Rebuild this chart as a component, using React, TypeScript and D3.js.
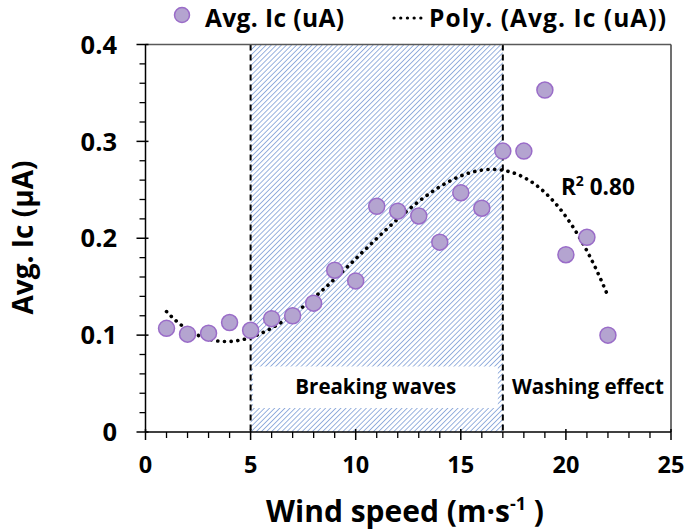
import React from "react";
import * as d3 from "d3";

const windSpeed = [1, 2, 3, 4, 5, 6, 7, 8, 9, 10, 11, 12, 13, 14, 15, 16, 17, 18, 19, 20, 21, 22];
const avgIc = [0.107, 0.101, 0.102, 0.113, 0.105, 0.117, 0.120, 0.133, 0.167, 0.156, 0.233, 0.228, 0.223, 0.196, 0.247, 0.231, 0.290, 0.290, 0.353, 0.183, 0.201, 0.100];
const xTicks = [0, 5, 10, 15, 20, 25];
const yTicks = [0, 0.1, 0.2, 0.3, 0.4];
const zoneBounds = [5, 17];
const zoneLabels = ["Breaking waves", "Washing effect"];
const legendLabels = ["Avg. Ic (uA)", "Poly. (Avg. Ic (uA))"];
const r2Label = "0.80";
const polyOrder = 3;

function polyFit(xs: number[], ys: number[], order: number): number[] {
  const n = order + 1;
  const A: number[][] = Array.from({ length: n }, () => new Array(n + 1).fill(0));
  for (let i = 0; i < xs.length; i++) {
    for (let r = 0; r < n; r++) {
      for (let c = 0; c < n; c++) A[r][c] += Math.pow(xs[i], r + c);
      A[r][n] += ys[i] * Math.pow(xs[i], r);
    }
  }
  for (let p = 0; p < n; p++) {
    let max = p;
    for (let r = p + 1; r < n; r++) if (Math.abs(A[r][p]) > Math.abs(A[max][p])) max = r;
    [A[p], A[max]] = [A[max], A[p]];
    for (let r = 0; r < n; r++) {
      if (r === p) continue;
      const f = A[r][p] / A[p][p];
      for (let c = p; c <= n; c++) A[r][c] -= f * A[p][c];
    }
  }
  return A.map((row, i) => row[n] / row[i]);
}

const FONT = "'Open Sans', Lato, sans-serif";

export default function App() {
  const W = 685, H = 530;
  const x = d3.scaleLinear().domain([0, 25]).range([145.5, 671]);
  const y = d3.scaleLinear().domain([0, 0.4]).range([432, 44.5]);

  const coef = polyFit(windSpeed, avgIc, polyOrder);
  const evalPoly = (v: number) => coef.reduce((s, c, i) => s + c * Math.pow(v, i), 0);
  const xMin = d3.min(windSpeed)!, xMax = d3.max(windSpeed)!;
  const trendPts = d3.range(xMin, xMax + 0.001, 0.1).map((v) => [v, evalPoly(v)] as [number, number]);
  const line = d3.line<[number, number]>().x((d) => x(d[0])).y((d) => y(d[1])).curve(d3.curveLinear);

  const minorX = d3.range(0, 25.001, 1).filter((v) => v % 5 !== 0);
  const minorY = d3.range(0, 0.4001, 0.02).filter((v) => Math.abs((v * 10) - Math.round(v * 10)) > 1e-6);

  const x0 = x(0), x1 = x(25), y0 = y(0), y1 = y(0.4);
  const zx0 = x(zoneBounds[0]), zx1 = x(zoneBounds[1]);

  return (
    <svg width={W} height={H} style={{ position: "absolute", left: 0, top: 0, background: "#fff" }} fontFamily={FONT}>
      <defs>
        <pattern id="hatch" patternUnits="userSpaceOnUse" width={3.6} height={3.6} patternTransform="rotate(45)">
          <rect width={3.6} height={3.6} fill="#fff" />
          <line x1={0} y1={0} x2={0} y2={3.6} stroke="#8eaadb" strokeWidth={1.8} />
        </pattern>
      </defs>
      <rect x={0} y={0} width={W} height={H} fill="#fff" />

      {/* hatched zone */}
      <rect x={zx0} y={y1} width={zx1 - zx0} height={y0 - y1} fill="url(#hatch)" />
      <rect x={zx0 + 2.5} y={366.5} width={zx1 - zx0 - 7.5} height={41.5} fill="#fff" />

      {/* dashed zone lines */}
      {zoneBounds.map((b) => (
        <line key={b} x1={x(b)} x2={x(b)} y1={y1} y2={y0} stroke="#000" strokeWidth={2} strokeDasharray="6,4" />
      ))}

      {/* trendline */}
      <path d={line(trendPts) || ""} fill="none" stroke="#000" strokeWidth={3.6} strokeLinecap="round" strokeDasharray="0.1,6.6" />

      {/* points */}
      {windSpeed.map((w, i) => (
        <circle key={w} cx={x(w)} cy={y(avgIc[i])} r={8} fill="#b4a4d0" stroke="#9a6cc8" strokeWidth={1.5} />
      ))}

      {/* border */}
      <line x1={x0} x2={x1} y1={y1} y2={y1} stroke="#595959" strokeWidth={1.5} />
      <line x1={x1} x2={x1} y1={y1} y2={y0} stroke="#404040" strokeWidth={1.5} />

      {/* axes */}
      <line x1={x0} x2={x1} y1={y0} y2={y0} stroke="#000" strokeWidth={1.5} />
      <line x1={x0} x2={x0} y1={y1} y2={y0} stroke="#000" strokeWidth={1.5} />
      {xTicks.map((t) => (
        <g key={"xt" + t}>
          <line x1={x(t)} x2={x(t)} y1={y0 - 3} y2={y0 + 8} stroke="#000" strokeWidth={1.5} />
          <text x={x(t)} y={473} textAnchor="middle" fontSize={23.5} fontWeight="bold" fill="#000">{t}</text>
        </g>
      ))}
      {minorX.map((t) => (
        <line key={"xm" + t} x1={x(t)} x2={x(t)} y1={y0} y2={y0 + 6} stroke="#000" strokeWidth={1.3} />
      ))}
      {yTicks.map((t) => (
        <g key={"yt" + t}>
          <line x1={x0 - 9} x2={x0 + 3} y1={y(t)} y2={y(t)} stroke="#000" strokeWidth={1.5} />
          <text x={117} y={y(t)} dy="0.36em" textAnchor="end" fontSize={25.5} fontWeight="bold" fill="#000">{t === 0 ? "0" : t.toFixed(1)}</text>
        </g>
      ))}
      {minorY.map((t) => (
        <line key={"ym" + t} x1={x0 - 6} x2={x0} y1={y(t)} y2={y(t)} stroke="#000" strokeWidth={1.3} />
      ))}

      {/* zone labels */}
      <text x={(zx0 + zx1) / 2 - 1} y={394} textAnchor="middle" fontSize={20.5} fontWeight="bold" fill="#000">{zoneLabels[0]}</text>
      <text x={588} y={394} textAnchor="middle" fontSize={20.5} fontWeight="bold" fill="#000">{zoneLabels[1]}</text>

      {/* R2 label */}
      <text x={561} y={195} fontSize={22.5} fontWeight="bold" fill="#000">
        R<tspan fontSize={14} dy={-9}>2</tspan><tspan dy={9}> {r2Label}</tspan>
      </text>

      {/* axis titles */}
      <text transform="translate(33,237.5) rotate(-90)" textAnchor="middle" fontSize={28} fontWeight="bold" fill="#000">Avg. Ic (μA)</text>
      <text x={405} y={522} textAnchor="middle" fontSize={30} fontWeight="bold" fill="#000">
        Wind speed (m·s<tspan fontSize={18} dy={-12}>-1</tspan><tspan dy={12}> )</tspan>
      </text>

      {/* legend */}
      <circle cx={182} cy={15} r={7.5} fill="#b4a4d0" stroke="#9a6cc8" strokeWidth={1.5} />
      <text x={205} y={26.5} fontSize={24.5} fontWeight="bold" fill="#000" textLength={139} lengthAdjust="spacing">{legendLabels[0]}</text>
      <line x1={394} x2={421} y1={18} y2={18} stroke="#000" strokeWidth={3.2} strokeLinecap="round" strokeDasharray="0.1,6.6" />
      <text x={429} y={26.5} fontSize={24.5} fontWeight="bold" fill="#000" textLength={237} lengthAdjust="spacing">{legendLabels[1]}</text>
    </svg>
  );
}
